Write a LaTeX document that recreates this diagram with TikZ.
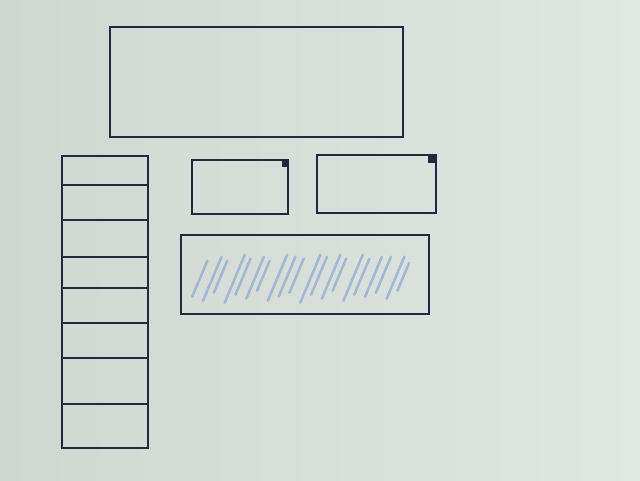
\documentclass[tikz,border=0pt]{standalone}
\usepackage{xcolor}
\usepackage{tikz}
\usetikzlibrary{calc}

\definecolor{board}{RGB}{208,215,208}
\definecolor{boardlight}{RGB}{224,231,227}
\definecolor{pen}{RGB}{38,38,62}
\definecolor{marker}{RGB}{145,170,210}

\begin{document}
\begin{tikzpicture}[
  box/.style={draw=pen, line width=1.1pt, minimum width=#1, inner sep=0pt},
  corner/.style={fill=pen},
  scribble/.style={marker, line width=1.8pt, line cap=round, opacity=0.75},
]

% Whiteboard
\useasboundingbox (0,0) rectangle (16,12);
\shade[left color=board, right color=boardlight] (0,0) rectangle (16,12);

% Header
\node[box=7.33cm, minimum height=2.75cm] (header) at (6.41,9.95) {};

% Two small panels
\node[box=2.4cm, minimum height=1.35cm] (panelA) at (6.0,7.325) {};
\node[box=2.975cm, minimum height=1.45cm] (panelB) at (9.41,7.4) {};
\fill[corner] (panelA.north east) rectangle ++(-0.18,-0.2);
\fill[corner] (panelB.north east) rectangle ++(-0.22,-0.22);

% Hatched panel (marker scribbles)
\node[box=6.2cm, minimum height=1.975cm] (hatch) at (7.625,5.1375) {};
\foreach \i/\b/\l in {0/0.45/0.9, 1/0.35/1.1, 2/0.55/0.8, 3/0.3/1.2, 4/0.5/0.9,
                      5/0.4/1.05, 6/0.6/0.75, 7/0.35/1.15, 8/0.45/1.0, 9/0.55/0.85,
                      10/0.3/1.2, 11/0.5/0.95, 12/0.4/1.1, 13/0.6/0.8, 14/0.35/1.15,
                      15/0.5/0.9, 16/0.45/1.0, 17/0.55/0.9, 18/0.4/1.05, 19/0.6/0.7}
  \draw[scribble] ($(hatch.south west)+(0.3+0.27*\i,\b)$) -- ++(0.42*\l,\l);

% Sidebar list
\node[box=2.15cm, minimum height=7.3cm] (sidebar) at (2.625,4.45) {};
\foreach \y in {7.375, 6.5, 5.575, 4.8, 3.925, 3.05, 1.9}
  \draw[pen, line width=1.1pt] (sidebar.west |- 0,\y) -- (sidebar.east |- 0,\y);

\end{tikzpicture}
\end{document}
